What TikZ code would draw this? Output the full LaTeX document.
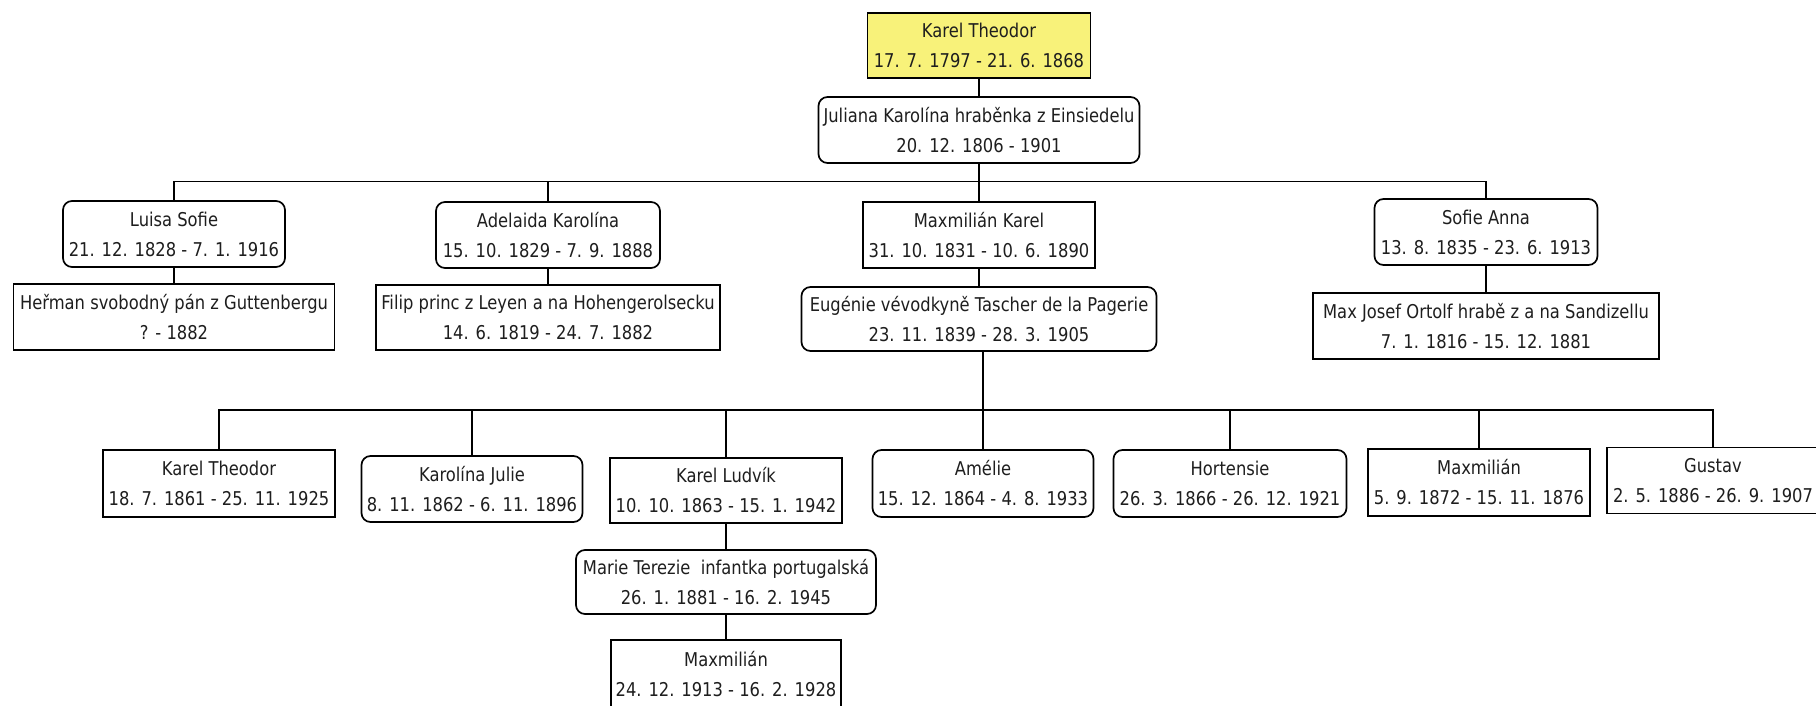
\documentclass[tikz,border=0pt]{standalone}
\usepackage{fontspec}
\newfontfamily\pfont[FakeStretch=0.86]{DejaVu Sans}
\definecolor{rootyellow}{RGB}{248,242,122}
\definecolor{txt}{RGB}{30,30,30}
\tikzset{
  person/.style={draw=black, line width=1.7pt, fill=white, inner sep=0pt, align=center,
    text=txt, font={\pfont\fontsize{19}{30}\selectfont}},
  rbox/.style={person, rounded corners=9pt},
  sbox/.style={person},
  rootbox/.style={person, fill=rootyellow},
  link/.style={draw=black, line width=1.7pt},
}
\begin{document}
\begin{tikzpicture}[x=1pt, y=-1pt]
\useasboundingbox (0,0) rectangle (1816,705);
\fill[white] (0,0) rectangle (1816,705);
% generation 1
\node[rootbox, minimum width=223, minimum height=65] (kt) at (979,45.5) {Karel Theodor\\17. 7. 1797 - 21. 6. 1868};
\node[rbox, minimum width=321, minimum height=66] (jul) at (979,130) {Juliana Karolína hraběnka z Einsiedelu\\20. 12. 1806 - 1901};
% generation 2
\node[rbox, minimum width=222, minimum height=66] (luisa) at (174,234) {Luisa Sofie\\21. 12. 1828 - 7. 1. 1916};
\node[sbox, minimum width=321, minimum height=66] (herman) at (174,317) {Heřman svobodný pán z Guttenbergu\\? - 1882};
\node[rbox, minimum width=224, minimum height=66] (adel) at (548,235) {Adelaida Karolína\\15. 10. 1829 - 7. 9. 1888};
\node[sbox, minimum width=344, minimum height=65] (filip) at (548,317.5) {Filip princ z Leyen a na Hohengerolsecku\\14. 6. 1819 - 24. 7. 1882};
\node[sbox, minimum width=232, minimum height=66] (maxk) at (979,235) {Maxmilián Karel\\31. 10. 1831 - 10. 6. 1890};
\node[rbox, minimum width=355, minimum height=64] (eug) at (979,319) {Eugénie vévodkyně Tascher de la Pagerie\\23. 11. 1839 - 28. 3. 1905};
\node[rbox, minimum width=223, minimum height=66] (sofie) at (1486,232) {Sofie Anna\\13. 8. 1835 - 23. 6. 1913};
\node[sbox, minimum width=346, minimum height=66] (maxj) at (1486,326) {Max Josef Ortolf hrabě z a na Sandizellu\\7. 1. 1816 - 15. 12. 1881};
% generation 3
\node[sbox, minimum width=232, minimum height=67] (ktc) at (219,483.5) {Karel Theodor\\18. 7. 1861 - 25. 11. 1925};
\node[rbox, minimum width=221, minimum height=66] (kj) at (472,489) {Karolína Julie\\8. 11. 1862 - 6. 11. 1896};
\node[sbox, minimum width=232, minimum height=65] (kl) at (726,490.5) {Karel Ludvík\\10. 10. 1863 - 15. 1. 1942};
\node[rbox, minimum width=300, minimum height=64] (mt) at (726,582) {Marie Terezie~ infantka portugalská\\26. 1. 1881 - 16. 2. 1945};
\node[sbox, minimum width=230, minimum height=68] (mxg) at (726,674) {Maxmilián\\24. 12. 1913 - 16. 2. 1928};
\node[rbox, minimum width=221, minimum height=67] (am) at (983,483.5) {Amélie\\15. 12. 1864 - 4. 8. 1933};
\node[rbox, minimum width=233, minimum height=67] (hort) at (1230,483.5) {Hortensie\\26. 3. 1866 - 26. 12. 1921};
\node[sbox, minimum width=222, minimum height=67] (mx) at (1479,482.5) {Maxmilián\\5. 9. 1872 - 15. 11. 1876};
\node[sbox, minimum width=212, minimum height=66] (gus) at (1713,480.5) {Gustav\\2. 5. 1886 - 26. 9. 1907};
% bars
\coordinate (bar1) at (979,181.5);
\coordinate (bar2) at (983,410);
% connectors
\draw[link] (kt.south) -- (jul.north);
\draw[link] (jul.south) -- (maxk.north);
\draw[link] (luisa.north) |- (bar1) -| (sofie.north);
\draw[link] (adel.north) -- (adel.north |- bar1);
\draw[link] (luisa.south) -- (herman.north);
\draw[link] (adel.south) -- (filip.north);
\draw[link] (maxk.south) -- (eug.north);
\draw[link] (sofie.south) -- (maxj.north);
\draw[link] (eug.south -| bar2) -- (bar2);
\draw[link] (ktc.north) |- (bar2) -| (gus.north);
\draw[link] (kj.north) -- (kj.north |- bar2);
\draw[link] (kl.north) -- (kl.north |- bar2);
\draw[link] (am.north) -- (am.north |- bar2);
\draw[link] (hort.north) -- (hort.north |- bar2);
\draw[link] (mx.north) -- (mx.north |- bar2);
\draw[link] (kl.south) -- (mt.north);
\draw[link] (mt.south) -- (mxg.north);
\end{tikzpicture}
\end{document}
